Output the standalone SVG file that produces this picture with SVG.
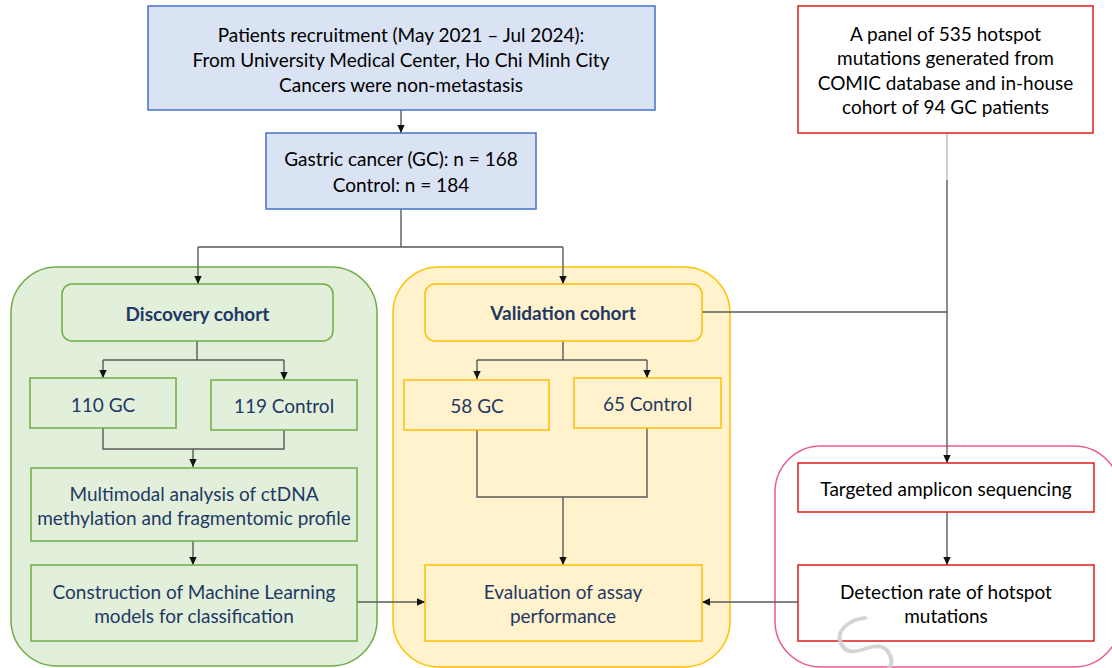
<svg xmlns="http://www.w3.org/2000/svg" width="1112" height="668" viewBox="0 0 1112 668">
<defs>
<marker id="ah" markerUnits="userSpaceOnUse" markerWidth="9" markerHeight="9" refX="8" refY="4.5" orient="auto">
<path d="M0,0.8 L8,4.5 L0,8.2 Z" fill="#111"/>
</marker>
<style>
text{font-family:Lato,"Open Sans","Liberation Sans",sans-serif;font-size:19px;text-anchor:middle;dominant-baseline:central}
.blue{fill:#dae3f3;stroke:#4472c4;stroke-width:1.5}
.green{fill:#e2efda;stroke:#70ad47;stroke-width:1.5}
.yellow{fill:#fff2cc;stroke:#ffc000;stroke-width:1.5}
.red{fill:#fff;stroke:#e01b1b;stroke-width:1.5}
.pink{fill:none;stroke:#ec5a94;stroke-width:1.5}
.dk{fill:#000}
.nv{fill:#1f3864}
.b{font-weight:bold}
.c{fill:none;stroke:#5a5a5a;stroke-width:1.4}
.ca{fill:none;stroke:#5a5a5a;stroke-width:1.4;marker-end:url(#ah)}
</style>
</defs>
<rect width="1112" height="668" fill="#fff"/>

<g id="containers">
<rect id="discovery-group" class="green" x="11" y="267" width="366" height="399" rx="46"/>
<rect id="validation-group" class="yellow" x="393" y="267" width="337" height="400" rx="46"/>
<rect id="mutation-group" class="pink" x="775" y="446" width="345" height="221" rx="46"/>
</g>

<g id="connectors">
<path class="ca" d="M401,110 V133"/>
<path class="c" d="M401,209 V247 M198,247 H563"/>
<path class="ca" d="M198,247 V284"/>
<path class="ca" d="M563,247 V284"/>
<path class="c" d="M197,341 V360 M103,360 H284"/>
<path class="ca" d="M103,360 V378"/>
<path class="ca" d="M284,360 V380"/>
<path class="c" d="M103,428 V449 H284 V430"/>
<path class="ca" d="M193,449 V467"/>
<path class="ca" d="M193,541 V565"/>
<path class="ca" d="M357,602 H425"/>
<path class="c" d="M563,341 V360 M477,360 H647"/>
<path class="ca" d="M477,360 V379"/>
<path class="ca" d="M647,360 V378"/>
<path class="c" d="M477,430 V497 H647 V428"/>
<path class="ca" d="M563,497 V565"/>
<path class="c" d="M702,312 H947"/>
<path d="M947,133 V180" fill="none" stroke="#bdbdbd" stroke-width="1.4"/>
<path class="ca" d="M947,180 V463"/>
<path class="ca" d="M947,512 V565"/>
<path class="ca" d="M798,602 H702"/>
</g>

<g id="recruitment">
<rect class="blue" x="148" y="6" width="507" height="104"/>
<text class="dk" x="401" y="34">Patients recruitment (May 2021 – Jul 2024):</text>
<text class="dk" x="401" y="59">From University Medical Center, Ho Chi Minh City</text>
<text class="dk" x="401" y="84">Cancers were non-metastasis</text>
</g>

<g id="totals">
<rect class="blue" x="266" y="133" width="270" height="76"/>
<text class="dk" x="401" y="158">Gastric cancer (GC): n = 168</text>
<text class="dk" x="401" y="184">Control: n = 184</text>
</g>

<g id="panel">
<rect class="red" x="798" y="6" width="295" height="127"/>
<text class="dk" x="945.5" y="33">A panel of 535 hotspot</text>
<text class="dk" x="945.5" y="57.5">mutations generated from</text>
<text class="dk" x="945.5" y="82">COMIC database and in-house</text>
<text class="dk" x="945.5" y="106.5">cohort of 94 GC patients</text>
</g>

<g id="discovery-cohort">
<rect class="green" x="62" y="284" width="271" height="57" rx="10"/>
<text class="nv b" x="197.5" y="313">Discovery cohort</text>
</g>
<g id="d-gc">
<rect class="green" x="30" y="378" width="146" height="50"/>
<text class="nv" x="103" y="404">110 GC</text>
</g>
<g id="d-control">
<rect class="green" x="211" y="380" width="146" height="50"/>
<text class="nv" x="284" y="405">119 Control</text>
</g>
<g id="multimodal">
<rect class="green" x="31" y="468" width="326" height="73"/>
<text class="nv" x="194" y="493">Multimodal analysis of ctDNA</text>
<text class="nv" x="194" y="517">methylation and fragmentomic profile</text>
</g>
<g id="ml-models">
<rect class="green" x="31" y="565" width="326" height="76"/>
<text class="nv" x="194" y="591">Construction of Machine Learning</text>
<text class="nv" x="194" y="615">models for classification</text>
</g>

<g id="validation-cohort">
<rect class="yellow" x="425" y="284" width="277" height="57" rx="10"/>
<text class="nv b" x="563" y="312">Validation cohort</text>
</g>
<g id="v-gc">
<rect class="yellow" x="404" y="380" width="145" height="50"/>
<text class="nv" x="477" y="405">58 GC</text>
</g>
<g id="v-control">
<rect class="yellow" x="574" y="378" width="147" height="50"/>
<text class="nv" x="647.5" y="403">65 Control</text>
</g>
<g id="evaluation">
<rect class="yellow" x="425" y="565" width="277" height="76"/>
<text class="nv" x="563" y="591">Evaluation of assay</text>
<text class="nv" x="563" y="615">performance</text>
</g>

<g id="targeted">
<rect class="red" x="798" y="463" width="296" height="49"/>
<text class="dk" x="946" y="488">Targeted amplicon sequencing</text>
</g>
<g id="detection">
<rect class="red" x="798" y="565" width="296" height="76"/>
<text class="dk" x="946" y="591">Detection rate of hotspot</text>
<text class="dk" x="946" y="615">mutations</text>
</g>

<g id="watermark" opacity="0.9">
<text x="0" y="0" transform="translate(882 676) rotate(-32)" style="font-family:'DejaVu Sans',sans-serif;font-weight:200;font-size:86px;fill:#d0d0d0;dominant-baseline:auto">S</text>
</g>
</svg>
